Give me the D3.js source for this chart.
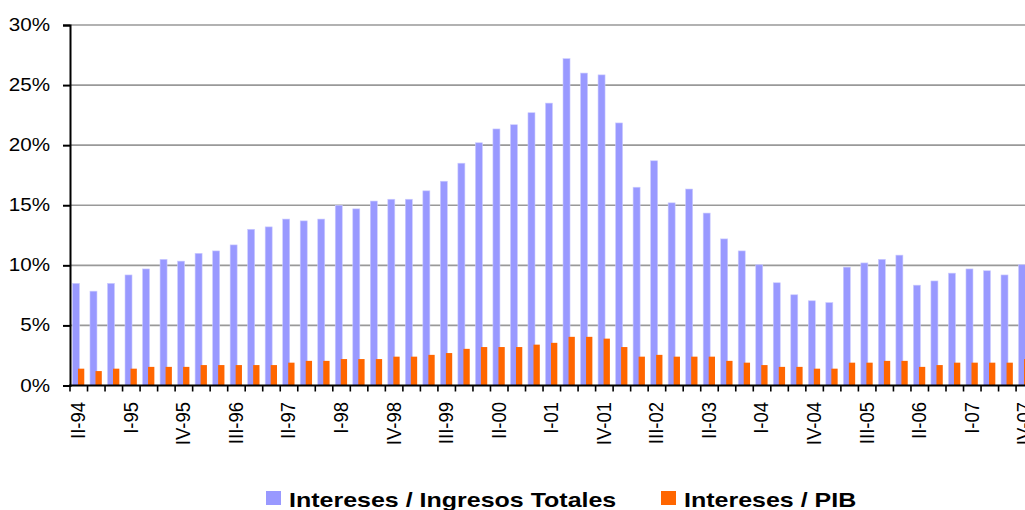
<!doctype html>
<html lang="es">
<head>
    <meta charset="UTF-8">
    <script src="https://d3js.org/d3.v7.min.js"></script>
    <title>Intereses</title>
    <style>
        body { margin: 0; background: #fff; overflow: hidden; }
        text { font-family: Arial, "Liberation Sans", sans-serif; fill: #000; }
    </style>
</head>
<body>
<div id="chart"></div>
<script>

    //quarters shown on the x axis
    const quarters = [
        "II-94", "III-94", "IV-94",
        "I-95", "II-95", "III-95", "IV-95",
        "I-96", "II-96", "III-96", "IV-96",
        "I-97", "II-97", "III-97", "IV-97",
        "I-98", "II-98", "III-98", "IV-98",
        "I-99", "II-99", "III-99", "IV-99",
        "I-00", "II-00", "III-00", "IV-00",
        "I-01", "II-01", "III-01", "IV-01",
        "I-02", "II-02", "III-02", "IV-02",
        "I-03", "II-03", "III-03", "IV-03",
        "I-04", "II-04", "III-04", "IV-04",
        "I-05", "II-05", "III-05", "IV-05",
        "I-06", "II-06", "III-06", "IV-06",
        "I-07", "II-07", "III-07", "IV-07"
    ];

    //Intereses / Ingresos Totales (%)
    const interesesIngresos = [
        8.5, 7.85, 8.5,
        9.2, 9.7, 10.5, 10.35,
        11.0, 11.2, 11.7, 13.0,
        13.2, 13.85, 13.7, 13.85,
        15.0, 14.7, 15.35, 15.5,
        15.5, 16.2, 17.0, 18.5,
        20.2, 21.35, 21.7, 22.7,
        23.5, 27.2, 26.0, 25.85,
        21.85, 16.5, 18.7, 15.2,
        16.35, 14.35, 12.2, 11.2,
        10.05, 8.55, 7.55, 7.05,
        6.9, 9.85, 10.2, 10.5,
        10.85, 8.35, 8.7, 9.35,
        9.7, 9.55, 9.2, 10.05
    ];

    //Intereses / PIB (%)
    const interesesPIB = [
        1.4, 1.2, 1.4,
        1.4, 1.55, 1.55, 1.55,
        1.7, 1.7, 1.7, 1.7,
        1.7, 1.9, 2.05, 2.05,
        2.2, 2.2, 2.2, 2.4,
        2.4, 2.55, 2.7, 3.05,
        3.2, 3.2, 3.2, 3.4,
        3.55, 4.05, 4.05, 3.9,
        3.2, 2.4, 2.55, 2.4,
        2.4, 2.4, 2.05, 1.9,
        1.7, 1.55, 1.55, 1.4,
        1.4, 1.9, 1.9, 2.05,
        2.05, 1.55, 1.7, 1.9,
        1.9, 1.9, 1.9, 2.2
    ];

    const yTicks = [0, 5, 10, 15, 20, 25, 30];
    const seriesNames = ["Intereses / Ingresos Totales", "Intereses / PIB"];
    const colors = ["#9999ff", "#ff6600"];

    let width = 1025, height = 510;

    let svg = d3.select("#chart").append("svg")
        .attr("width", width)
        .attr("height", height);

    //scales (plot runs past the right edge like the original)
    let x = d3.scaleBand()
        .domain(quarters)
        .range([70, 70 + quarters.length * 17.52])
        .paddingInner(0).paddingOuter(0);

    let y = d3.scaleLinear()
        .domain([0, 30])
        .range([385.5, 25]);

    let bw = x.bandwidth();

    //grid lines
    svg.append("g")
        .selectAll("line")
        .data(yTicks.filter(d => d > 0))
        .enter()
        .append("line")
        .attr("x1", 70)
        .attr("x2", x.range()[1])
        .attr("y1", d => y(d))
        .attr("y2", d => y(d))
        .attr("stroke", "#999")
        .attr("stroke-width", 1.6);

    //bars
    let rows = quarters.map((q, i) => ({q: q, a: interesesIngresos[i], b: interesesPIB[i]}));

    svg.append("g")
        .selectAll("rect")
        .data(rows)
        .enter()
        .append("rect")
        .attr("x", d => x(d.q) + bw * 0.14)
        .attr("width", bw * 0.4)
        .attr("y", d => y(d.a))
        .attr("height", d => y(0) - y(d.a))
        .attr("fill", colors[0])
        .attr("stroke", "#ccccff")
        .attr("stroke-width", 0.6);

    svg.append("g")
        .selectAll("rect")
        .data(rows)
        .enter()
        .append("rect")
        .attr("x", d => x(d.q) + bw * 0.455)
        .attr("width", bw * 0.36)
        .attr("y", d => y(d.b))
        .attr("height", d => y(0) - y(d.b))
        .attr("fill", colors[1]);

    //y axis
    let yAxis = svg.append("g")
        .attr("transform", "translate(70,0)")
        .call(d3.axisLeft(y).tickValues(yTicks).tickSize(7).tickFormat(""));
    yAxis.select(".domain").attr("stroke", "#000").attr("stroke-width", 2);
    yAxis.selectAll(".tick line").attr("stroke", "#000").attr("stroke-width", 2);

    svg.append("g")
        .selectAll("text")
        .data(yTicks)
        .enter()
        .append("text")
        .attr("transform", d => "translate(50," + (y(d) + 6) + ") scale(1.18,1)")
        .attr("text-anchor", "end")
        .attr("font-size", 17.5)
        .text(d => d + "%");

    //x axis: ticks on every category boundary
    let xg = svg.append("g");
    xg.append("line")
        .attr("x1", 69).attr("x2", x.range()[1])
        .attr("y1", y(0)).attr("y2", y(0))
        .attr("stroke", "#000").attr("stroke-width", 2.2);

    xg.selectAll(".xt")
        .data(quarters)
        .enter()
        .append("line")
        .attr("class", "xt")
        .attr("x1", d => x(d))
        .attr("x2", d => x(d))
        .attr("y1", y(0))
        .attr("y2", y(0) + 6)
        .attr("stroke", "#000")
        .attr("stroke-width", 1.6);

    //every third quarter gets a label
    xg.selectAll(".xl")
        .data(quarters.filter((d, i) => i % 3 === 0))
        .enter()
        .append("text")
        .attr("class", "xl")
        .attr("transform", d => "translate(" + (x(d) + bw / 2 - 1) + ",402) scale(1.12,1) rotate(-90)")
        .attr("text-anchor", "end")
        .attr("dominant-baseline", "central")
        .attr("font-size", 18.5)
        .text(d => d);

    //legend
    let legendX = [266, 661];
    let legend = svg.append("g")
        .selectAll("g")
        .data(seriesNames)
        .enter()
        .append("g");

    legend.append("rect")
        .attr("x", (d, i) => legendX[i])
        .attr("y", 491)
        .attr("width", 15)
        .attr("height", 14)
        .attr("fill", (d, i) => colors[i]);

    legend.append("text")
        .attr("transform", (d, i) => "translate(" + (legendX[i] + 23) + ",507) scale(1.19,1)")
        .attr("font-size", 21)
        .attr("font-weight", "bold")
        .text(d => d);

</script>
</body>
</html>
